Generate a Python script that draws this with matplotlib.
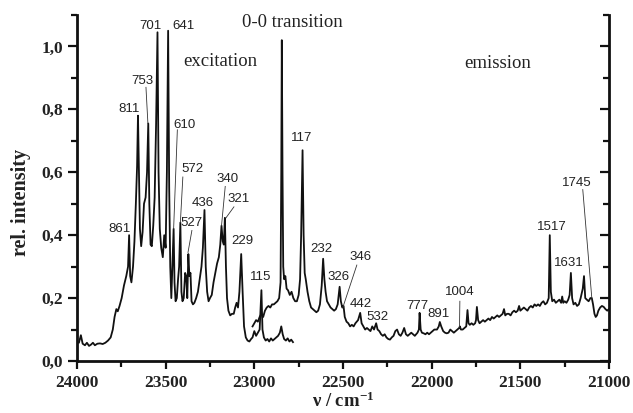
import matplotlib
matplotlib.use("Agg")
import matplotlib.pyplot as plt
from matplotlib.ticker import MultipleLocator, FuncFormatter

# excitation spectrum (wavenumber / cm-1, rel. intensity)
exc_nu = [24000, 23989, 23978, 23968, 23955, 23944, 23932, 23921, 23910, 23899,
          23885, 23870, 23855, 23840, 23825, 23810, 23798, 23788, 23778, 23770,
          23760, 23748, 23735, 23722, 23712, 23706, 23700, 23693, 23684, 23676,
          23668, 23661, 23656, 23651, 23645, 23638, 23630, 23622, 23613, 23605,
          23598, 23592, 23585, 23578, 23570, 23562, 23554, 23546, 23540, 23533,
          23525, 23516, 23508, 23500, 23493, 23486, 23480, 23474, 23468, 23462,
          23455, 23450, 23444, 23437, 23430, 23424, 23417, 23411, 23405, 23398,
          23390, 23384, 23378, 23372, 23366, 23360, 23354, 23346, 23338, 23328,
          23318, 23308, 23298, 23290, 23281, 23274, 23266, 23258, 23250, 23240,
          23230, 23220, 23210, 23200, 23192, 23185, 23178, 23172, 23166, 23160,
          23154, 23146, 23136, 23126, 23116, 23108, 23100, 23092, 23084, 23074,
          23066, 23058, 23048, 23038, 23028, 23018, 23010, 23000, 22990, 22980,
          22970, 22960, 22954, 22946, 22936, 22926, 22916, 22906, 22896, 22886,
          22876, 22866, 22856, 22848, 22840, 22832, 22822, 22812, 22802, 22792,
          22782]
exc_int = [0.060, 0.058, 0.082, 0.055, 0.050, 0.058, 0.048, 0.052, 0.058, 0.050,
           0.055, 0.056, 0.054, 0.058, 0.065, 0.075, 0.100, 0.140, 0.165, 0.158,
           0.175, 0.200, 0.240, 0.270, 0.300, 0.400, 0.270, 0.250, 0.300, 0.380,
           0.500, 0.620, 0.780, 0.620, 0.420, 0.365, 0.410, 0.500, 0.520, 0.600,
           0.755, 0.500, 0.370, 0.365, 0.430, 0.520, 0.750, 1.045, 0.600, 0.420,
           0.360, 0.330, 0.400, 0.360, 0.600, 1.050, 0.550, 0.300, 0.200, 0.300,
           0.420, 0.250, 0.190, 0.200, 0.260, 0.300, 0.440, 0.220, 0.190, 0.200,
           0.280, 0.270, 0.200, 0.340, 0.270, 0.280, 0.190, 0.180, 0.185, 0.200,
           0.220, 0.260, 0.300, 0.360, 0.480, 0.300, 0.220, 0.190, 0.200, 0.210,
           0.250, 0.280, 0.310, 0.330, 0.370, 0.430, 0.380, 0.370, 0.455, 0.300,
           0.200, 0.160, 0.145, 0.150, 0.150, 0.170, 0.185, 0.170, 0.220, 0.340,
           0.220, 0.110, 0.075, 0.065, 0.062, 0.070, 0.075, 0.095, 0.080, 0.090,
           0.100, 0.225, 0.100, 0.075, 0.065, 0.070, 0.062, 0.072, 0.065, 0.070,
           0.075, 0.080, 0.090, 0.110, 0.085, 0.070, 0.065, 0.072, 0.062, 0.068,
           0.060]

# emission spectrum
emi_nu = [23010, 23000, 22990, 22980, 22970, 22960, 22950, 22940, 22930, 22920,
          22910, 22900, 22890, 22880, 22870, 22860, 22852, 22848, 22845, 22841,
          22837, 22832, 22825, 22818, 22810, 22800, 22790, 22780, 22770, 22760,
          22750, 22742, 22736, 22728, 22722, 22716, 22710, 22700, 22690, 22680,
          22670, 22660, 22650, 22640, 22630, 22620, 22612, 22605, 22598, 22590,
          22580, 22570, 22560, 22550, 22540, 22530, 22519, 22512, 22504, 22497,
          22490, 22480, 22470, 22460, 22450, 22440, 22430, 22415, 22403, 22395,
          22385, 22375, 22365, 22355, 22345, 22335, 22325, 22313, 22305, 22295,
          22285, 22275, 22265, 22255, 22245, 22235, 22225, 22215, 22205, 22195,
          22185, 22175, 22165, 22155, 22145, 22135, 22125, 22115, 22105, 22095,
          22080, 22072, 22068, 22062, 22055, 22045, 22035, 22025, 22015, 22005,
          21995, 21985, 21970, 21960, 21954, 21946, 21935, 21925, 21915, 21905,
          21895, 21885, 21875, 21865, 21855, 21845, 21841, 21835, 21825, 21815,
          21805, 21798, 21792, 21785, 21775, 21765, 21755, 21750, 21745, 21738,
          21730, 21720, 21710, 21700, 21690, 21680, 21670, 21660, 21650, 21640,
          21630, 21620, 21610, 21600, 21592, 21585, 21575, 21565, 21555, 21545,
          21535, 21525, 21515, 21507, 21500, 21490, 21480, 21470, 21460, 21450,
          21440, 21430, 21420, 21410, 21400, 21390, 21380, 21370, 21360, 21350,
          21340, 21334, 21328, 21320, 21310, 21300, 21290, 21280, 21270, 21264,
          21258, 21250, 21240, 21230, 21222, 21215, 21208, 21200, 21190, 21180,
          21170, 21160, 21148, 21141, 21134, 21125, 21115, 21105, 21097, 21090,
          21082, 21075, 21068, 21060, 21050, 21040, 21030, 21020, 21010, 21001]
emi_int = [0.110, 0.120, 0.130, 0.125, 0.140, 0.150, 0.140, 0.160, 0.170, 0.175,
           0.170, 0.180, 0.180, 0.185, 0.190, 0.200, 0.250, 0.600, 1.020, 0.600,
           0.300, 0.260, 0.270, 0.230, 0.225, 0.210, 0.220, 0.200, 0.190, 0.190,
           0.210, 0.260, 0.400, 0.670, 0.400, 0.280, 0.260, 0.220, 0.190, 0.170,
           0.165, 0.160, 0.155, 0.160, 0.180, 0.240, 0.325, 0.260, 0.220, 0.190,
           0.180, 0.170, 0.165, 0.160, 0.165, 0.180, 0.236, 0.190, 0.170, 0.175,
           0.140, 0.125, 0.120, 0.110, 0.115, 0.110, 0.120, 0.130, 0.153, 0.120,
           0.110, 0.100, 0.105, 0.100, 0.095, 0.110, 0.100, 0.120, 0.100, 0.095,
           0.085, 0.080, 0.085, 0.075, 0.070, 0.068, 0.075, 0.080, 0.095, 0.100,
           0.085, 0.080, 0.090, 0.105, 0.085, 0.080, 0.085, 0.090, 0.085, 0.080,
           0.090, 0.100, 0.153, 0.100, 0.090, 0.088, 0.085, 0.090, 0.085, 0.090,
           0.095, 0.100, 0.100, 0.110, 0.124, 0.110, 0.095, 0.090, 0.088, 0.090,
           0.100, 0.095, 0.090, 0.095, 0.100, 0.105, 0.110, 0.100, 0.100, 0.105,
           0.110, 0.162, 0.120, 0.115, 0.120, 0.115, 0.120, 0.130, 0.172, 0.130,
           0.120, 0.125, 0.130, 0.125, 0.130, 0.135, 0.130, 0.140, 0.135, 0.140,
           0.145, 0.140, 0.145, 0.150, 0.165, 0.145, 0.150, 0.150, 0.145, 0.155,
           0.160, 0.155, 0.160, 0.175, 0.160, 0.165, 0.170, 0.165, 0.160, 0.170,
           0.175, 0.170, 0.180, 0.175, 0.180, 0.175, 0.185, 0.190, 0.180, 0.185,
           0.200, 0.400, 0.220, 0.190, 0.195, 0.185, 0.190, 0.195, 0.185, 0.205,
           0.185, 0.190, 0.185, 0.195, 0.210, 0.280, 0.200, 0.180, 0.185, 0.175,
           0.180, 0.200, 0.230, 0.270, 0.200, 0.195, 0.190, 0.200, 0.200, 0.180,
           0.150, 0.140, 0.145, 0.160, 0.170, 0.175, 0.172, 0.165, 0.160, 0.165]

# peak labels: text, label centre, end of leader line (None = no line)
peak_text = ["861", "811", "753", "701", "641", "610", "572", "527", "436",
             "340", "321", "229", "115", "117", "232", "326", "346", "442",
             "532", "777", "891", "1004", "1517", "1631", "1745"]
peak_pos = [(23763, 0.42), (23707, 0.80), (23634, 0.89), (23583, 1.064),
            (23402, 1.064), (23391, 0.75), (23346, 0.61), (23352, 0.44),
            (23290, 0.503), (23149, 0.58), (23087, 0.516), (23070, 0.382),
            (22963, 0.267), (22732, 0.71), (22624, 0.357), (22523, 0.268),
            (22399, 0.331), (22399, 0.18), (22303, 0.14), (22083, 0.175),
            (21959, 0.15), (21841, 0.22), (21322, 0.426), (21227, 0.311),
            (21182, 0.567)]
leaders = {"753": ((23611, 0.87), (23600, 0.755)),
           "610": ((23434, 0.735), (23455, 0.42)),
           "572": ((23403, 0.585), (23417, 0.44)),
           "527": ((23352, 0.415), (23374, 0.345)),
           "340": ((23164, 0.555), (23185, 0.43)),
           "321": ((23115, 0.49), (23160, 0.455)),
           "346": ((22422, 0.305), (22501, 0.17)),
           "1004": ((21841, 0.19), (21843, 0.108)),
           "1745": ((21148, 0.545), (21097, 0.20))}

plt.rcParams['mathtext.fontset'] = 'custom'
plt.rcParams['mathtext.rm'] = 'Liberation Serif:bold'
plt.rcParams['mathtext.default'] = 'rm'

fig = plt.figure(figsize=(6.33, 4.13), dpi=100)
ax = fig.add_axes([0.1216, 0.1259, 0.8405, 0.8378])

ax.plot(exc_nu, exc_int, color='#111111', lw=1.3)
ax.plot(emi_nu, emi_int, color='#111111', lw=1.3)

for txt, (x, y) in zip(peak_text, peak_pos):
    ax.text(x, y, txt, ha='center', va='center', fontsize=9.5,
            family='Liberation Sans', color='#222222')
for (x0, y0), (x1, y1) in leaders.values():
    ax.plot([x0, x1], [y0, y1], color='#333333', lw=0.6)

serif = dict(family='Liberation Serif', fontsize=13.5, color='#222222',
             ha='center', va='center')
ax.text(23194, 0.952, "excitation", **serif)
ax.text(21627, 0.946, "emission", **serif)
ax.text(22788, 1.076, "0-0 transition", **serif)

ax.set_xlim(24000, 21000)
ax.set_ylim(0, 1.1)
ax.xaxis.set_major_locator(MultipleLocator(500))
ax.xaxis.set_minor_locator(MultipleLocator(250))
ax.yaxis.set_major_locator(MultipleLocator(0.2))
ax.yaxis.set_minor_locator(MultipleLocator(0.1))
ax.yaxis.set_major_formatter(FuncFormatter(lambda v, p: f"{v:.1f}".replace('.', ',')))

ax.spines['top'].set_visible(False)
for s in ['left', 'bottom', 'right']:
    ax.spines[s].set_linewidth(2.0)
    ax.spines[s].set_color('#111111')

ax.tick_params(axis='both', which='both', width=1.6, color='#111111')
ax.tick_params(axis='x', which='major', length=6, direction='out', pad=4)
ax.tick_params(axis='x', which='minor', length=4, direction='out')
ax.tick_params(axis='y', which='major', length=6.5, direction='out', right=True)
ax.tick_params(axis='y', which='minor', length=4, direction='out', right=True)
# right spine ticks point inward
for t in ax.yaxis.get_major_ticks() + ax.yaxis.get_minor_ticks():
    t.tick2line.set_marker(matplotlib.lines.TICKLEFT)

for lbl in ax.get_xticklabels() + ax.get_yticklabels():
    lbl.set_family('Liberation Serif')
    lbl.set_fontweight('bold')
    lbl.set_fontsize(12.5)
    lbl.set_color('#222222')

fig.text(0.033, 0.51, "rel. intensity", rotation=90, ha='center', va='center',
         family='Liberation Serif', fontweight='bold', fontsize=14.5, color='#222222')
fig.text(0.542, 0.004, r"ν / cm$^{-1}$", ha='center', va='bottom',
         family='Liberation Serif', fontweight='bold', fontsize=13.5, color='#222222')

fig.savefig("out.png", dpi=100)
